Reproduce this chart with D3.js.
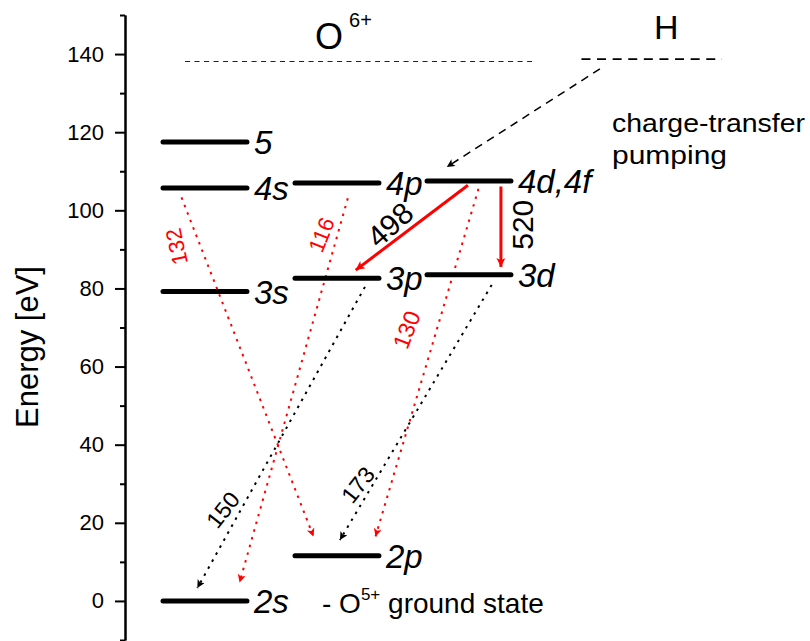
<!DOCTYPE html>
<html><head><meta charset="utf-8">
<script src="https://cdn.jsdelivr.net/npm/d3@7"></script>
<style>
body{margin:0;background:#fff;}
text{font-family:"Liberation Sans",Arial,Helvetica,sans-serif;}
</style></head>
<body><svg id="chart" width="810" height="641"></svg>
<script>
// ---------------- data ----------------
const majorTicks = [0, 20, 40, 60, 80, 100, 120, 140];
const minorTicks = [-10, 10, 30, 50, 70, 90, 110, 130, 150];
const axisTitle = "Energy [eV]";

// energy levels of O6+ (eV), column index
const levelNames  = ["5", "4s", "3s", "2s", "4p", "3p", "2p", "4d,4f", "3d"];
const levelEnergy = [117.5, 105.7, 79.2, 0, 107.0, 82.6, 11.6, 107.5, 83.5];
const levelColumn = [0, 0, 0, 0, 1, 1, 1, 2, 2];

// ionisation limits
const ionLimitO = 138.1;
const ionLimitH = 138.7;

// transitions (wavelength label, from column/energy, to column/energy)
const transLabels  = ["132", "116", "130", "150", "173", "498", "520"];
const transFromCol = [0.14, 1.40, 2.39, 1.53, 2.49, 2.31, 2.56];
const transFromE   = [103.3, 103.1, 105.5, 80.4, 80.9, 106.4, 106.1];
const transToCol   = [1.14, 0.58, 1.61, 0.26, 1.34, 1.46, 2.56];
const transToE     = [16.5, 4.7, 16.5, 3.3, 15.6, 84.7, 85.5];
const transKind    = ["redDot", "redDot", "redDot", "blackDot", "blackDot", "redSolid", "redSolid"];

// charge-transfer pumping arrow (from H to n=4)
const ctFrom = {col: 3.31, e: 136.2};
const ctTo   = {col: 2.15, e: 111.1};

// ---------------- layout ----------------
const svg = d3.select("#chart");
const y = d3.scaleLinear().domain([-10, 150]).range([640, 15]);
const x = d3.scaleLinear().domain([0, 1]).range([163, 295]); // column units
const levelLen = 0.636;
const axisX = 125;
const RED = "#ff0000";

// defs: arrow markers
const defs = svg.append("defs");
function marker(id, color, w, h) {
  defs.append("marker").attr("id", id)
    .attr("viewBox", "0 0 10 10").attr("refX", 10).attr("refY", 5)
    .attr("markerUnits", "userSpaceOnUse")
    .attr("markerWidth", w).attr("markerHeight", h)
    .attr("orient", "auto")
    .append("path").attr("d", "M0,0 L10,5 L0,10 L2.5,5 Z").attr("fill", color);
}
marker("mRed", RED, 13, 9);
marker("mRedDot", RED, 12, 8);
marker("mBlack", "#000", 12, 8);

// ---------------- axis ----------------
const gAxis = svg.append("g").attr("transform", `translate(${axisX},0)`);
gAxis.call(d3.axisLeft(y).tickValues(majorTicks).tickSize(10).tickSizeOuter(0).tickPadding(11).tickFormat(d3.format("d")));
gAxis.append("g").call(d3.axisLeft(y).tickValues(minorTicks).tickSize(5).tickSizeOuter(0).tickFormat(""));
gAxis.selectAll("path.domain").attr("stroke", "#000").attr("stroke-width", 2);
gAxis.selectAll(".tick line").attr("stroke", "#000").attr("stroke-width", 2);
gAxis.selectAll(".tick text").attr("font-size", 22).attr("fill", "#000")
  .attr("font-family", '"Liberation Sans",Arial,sans-serif');

svg.append("text").attr("transform", `translate(38,${y(65)}) rotate(-90)`)
  .attr("text-anchor", "middle").attr("font-size", 31).text(axisTitle);

// ---------------- ionisation limits ----------------
svg.append("line").attr("x1", x(0.167)).attr("x2", x(2.80))
  .attr("y1", y(ionLimitO)).attr("y2", y(ionLimitO))
  .attr("stroke", "#222").attr("stroke-width", 1.2).attr("stroke-dasharray", "5,4.5");
svg.append("line").attr("x1", x(3.17)).attr("x2", x(4.235))
  .attr("y1", y(ionLimitH)).attr("y2", y(ionLimitH))
  .attr("stroke", "#000").attr("stroke-width", 1.6).attr("stroke-dasharray", "9,6.6");

const tO = svg.append("text").attr("x", 315).attr("y", 49).attr("font-size", 36);
tO.append("tspan").text("O");
tO.append("tspan").attr("dx", 6).attr("dy", -22).attr("font-size", 20).text("6+");
svg.append("text").attr("x", 654).attr("y", 39).attr("font-size", 34).text("H");

// charge-transfer arrow
svg.append("line").attr("x1", x(ctFrom.col)).attr("y1", y(ctFrom.e))
  .attr("x2", x(ctTo.col)).attr("y2", y(ctTo.e))
  .attr("stroke", "#000").attr("stroke-width", 1.5).attr("stroke-dasharray", "8,6")
  .attr("marker-end", "url(#mBlack)");
svg.append("text").attr("x", 612).attr("y", 132).attr("font-size", 26)
  .attr("textLength", 193).attr("lengthAdjust", "spacingAndGlyphs").text("charge-transfer");
svg.append("text").attr("x", 612).attr("y", 164).attr("font-size", 26)
  .attr("textLength", 115).attr("lengthAdjust", "spacingAndGlyphs").text("pumping");

// ---------------- transitions ----------------
const trans = transLabels.map((l, i) => ({
  label: l, x1: x(transFromCol[i]), y1: y(transFromE[i]),
  x2: x(transToCol[i]), y2: y(transToE[i]), kind: transKind[i]
}));
svg.append("g").selectAll("line").data(trans).join("line")
  .attr("x1", d => d.x1).attr("y1", d => d.y1)
  .attr("x2", d => d.x2).attr("y2", d => d.y2)
  .attr("stroke", d => d.kind === "blackDot" ? "#000" : RED)
  .attr("stroke-width", d => d.kind === "redSolid" ? 3 : 2)
  .attr("stroke-dasharray", d => d.kind === "redSolid" ? null : "2.5,5.5")
  .attr("marker-end", d => d.kind === "redSolid" ? "url(#mRed)" : d.kind === "redDot" ? "url(#mRedDot)" : "url(#mBlack)");

// transition labels (anchor in column units / eV, rotation, size)
const labelLayout = {
  "132": {col: 0.104, e: 90.7, rot: -102, size: 22},
  "116": {col: 1.202, e: 93.7, rot: -68, size: 22},
  "130": {col: 1.846, e: 69.4, rot: -69, size: 23},
  "150": {col: 0.455, e: 23.3, rot: -52, size: 23},
  "173": {col: 1.477, e: 29.7, rot: -52, size: 23},
  "498": {col: 1.72,  e: 96.3, rot: -42, size: 30},
  "520": {col: 2.727, e: 96.3, rot: -90, size: 30}
};
svg.append("g").selectAll("text").data(trans).join("text")
  .attr("transform", d => {
    const L = labelLayout[d.label];
    return `translate(${x(L.col)},${y(L.e)}) rotate(${L.rot})`;
  })
  .attr("text-anchor", "middle").attr("dominant-baseline", "central")
  .attr("font-size", d => labelLayout[d.label].size)
  .attr("fill", d => d.kind.startsWith("red") && d.kind !== "redSolid" ? RED : "#000")
  .text(d => d.label);

// ---------------- levels ----------------
const levels = levelNames.map((n, i) => ({name: n, e: levelEnergy[i], col: levelColumn[i]}));
svg.append("g").selectAll("line").data(levels).join("line")
  .attr("x1", d => x(d.col)).attr("x2", d => x(d.col + levelLen))
  .attr("y1", d => y(d.e)).attr("y2", d => y(d.e))
  .attr("stroke", "#000").attr("stroke-width", 5).attr("stroke-linecap", "round");
svg.append("g").selectAll("text").data(levels).join("text")
  .attr("x", d => x(d.col + levelLen) + 7).attr("y", d => y(d.e) + 12)
  .attr("font-size", 33).attr("font-style", "italic").text(d => d.name);

// ground state note
const g = svg.append("text").attr("x", 322).attr("y", 613).attr("font-size", 28);
g.append("tspan").text("- O");
g.append("tspan").attr("dy", -13).attr("font-size", 17).text("5+");
g.append("tspan").attr("dy", 13).text(" ground state");
</script></body></html>
